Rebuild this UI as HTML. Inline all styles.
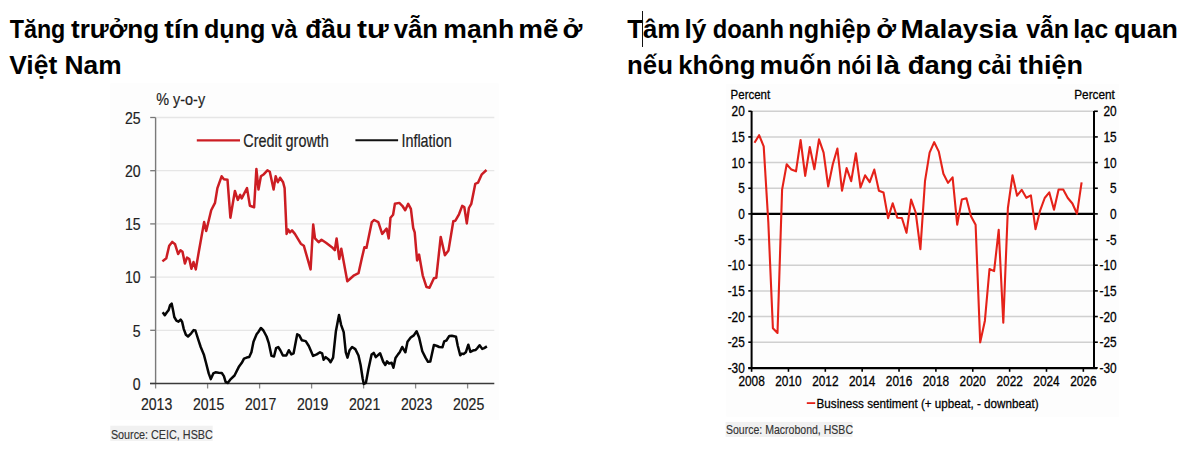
<!DOCTYPE html>
<html><head><meta charset="utf-8"><style>
html,body{margin:0;padding:0;background:#fff;width:1200px;height:474px;overflow:hidden}
svg{display:block}
text{font-family:"Liberation Sans",sans-serif}
</style></head><body>
<svg width="1200" height="474" viewBox="0 0 1200 474">
<text x="9.72" y="37.9" font-size="25" font-weight="bold" fill="#000" textLength="55.63" lengthAdjust="spacingAndGlyphs">Tăng</text>
<text x="70.94" y="37.9" font-size="25" font-weight="bold" fill="#000" textLength="88.31" lengthAdjust="spacingAndGlyphs">trưởng</text>
<text x="164.16" y="37.9" font-size="25" font-weight="bold" fill="#000" textLength="35.12" lengthAdjust="spacingAndGlyphs">tín</text>
<text x="203.99" y="37.9" font-size="25" font-weight="bold" fill="#000" textLength="61.45" lengthAdjust="spacingAndGlyphs">dụng</text>
<text x="271.16" y="37.9" font-size="25" font-weight="bold" fill="#000" textLength="26.26" lengthAdjust="spacingAndGlyphs">và</text>
<text x="305.2" y="37.9" font-size="25" font-weight="bold" fill="#000" textLength="46.52" lengthAdjust="spacingAndGlyphs">đầu</text>
<text x="357.14" y="37.9" font-size="25" font-weight="bold" fill="#000" textLength="31.64" lengthAdjust="spacingAndGlyphs">tư</text>
<text x="393.65" y="37.9" font-size="25" font-weight="bold" fill="#000" textLength="44.22" lengthAdjust="spacingAndGlyphs">vẫn</text>
<text x="443.3" y="37.9" font-size="25" font-weight="bold" fill="#000" textLength="70.87" lengthAdjust="spacingAndGlyphs">mạnh</text>
<text x="518.22" y="37.9" font-size="25" font-weight="bold" fill="#000" textLength="40.21" lengthAdjust="spacingAndGlyphs">mẽ</text>
<text x="562.63" y="37.9" font-size="25" font-weight="bold" fill="#000" textLength="19.84" lengthAdjust="spacingAndGlyphs">ở</text>
<text x="9.19" y="73.8" font-size="25" font-weight="bold" fill="#000" textLength="48.03" lengthAdjust="spacingAndGlyphs">Việt</text>
<text x="64.46" y="73.8" font-size="25" font-weight="bold" fill="#000" textLength="57.11" lengthAdjust="spacingAndGlyphs">Nam</text>
<text x="627.19" y="37.9" font-size="25" font-weight="bold" fill="#000" textLength="53.11" lengthAdjust="spacingAndGlyphs">Tâm</text>
<text x="684.46" y="37.9" font-size="25" font-weight="bold" fill="#000" textLength="21.95" lengthAdjust="spacingAndGlyphs">lý</text>
<text x="712.8" y="37.9" font-size="25" font-weight="bold" fill="#000" textLength="71.2" lengthAdjust="spacingAndGlyphs">doanh</text>
<text x="788.39" y="37.9" font-size="25" font-weight="bold" fill="#000" textLength="82.55" lengthAdjust="spacingAndGlyphs">nghiệp</text>
<text x="876.38" y="37.9" font-size="25" font-weight="bold" fill="#000" textLength="19.84" lengthAdjust="spacingAndGlyphs">ở</text>
<text x="900.6" y="37.9" font-size="25" font-weight="bold" fill="#000" textLength="116.71" lengthAdjust="spacingAndGlyphs">Malaysia</text>
<text x="1026.15" y="37.9" font-size="25" font-weight="bold" fill="#000" textLength="42.92" lengthAdjust="spacingAndGlyphs">vẫn</text>
<text x="1073.29" y="37.9" font-size="25" font-weight="bold" fill="#000" textLength="34.97" lengthAdjust="spacingAndGlyphs">lạc</text>
<text x="1113.93" y="37.9" font-size="25" font-weight="bold" fill="#000" textLength="64.05" lengthAdjust="spacingAndGlyphs">quan</text>
<text x="627.1" y="74.0" font-size="25" font-weight="bold" fill="#000" textLength="45.85" lengthAdjust="spacingAndGlyphs">nếu</text>
<text x="678.25" y="74.0" font-size="25" font-weight="bold" fill="#000" textLength="77.24" lengthAdjust="spacingAndGlyphs">không</text>
<text x="759.56" y="74.0" font-size="25" font-weight="bold" fill="#000" textLength="72.08" lengthAdjust="spacingAndGlyphs">muốn</text>
<text x="837.28" y="74.0" font-size="25" font-weight="bold" fill="#000" textLength="34.35" lengthAdjust="spacingAndGlyphs">nói</text>
<text x="875.51" y="74.0" font-size="25" font-weight="bold" fill="#000" textLength="24.43" lengthAdjust="spacingAndGlyphs">là</text>
<text x="907.65" y="74.0" font-size="25" font-weight="bold" fill="#000" textLength="65.48" lengthAdjust="spacingAndGlyphs">đang</text>
<text x="977.77" y="74.0" font-size="25" font-weight="bold" fill="#000" textLength="33.94" lengthAdjust="spacingAndGlyphs">cải</text>
<text x="1018.43" y="74.0" font-size="25" font-weight="bold" fill="#000" textLength="64.57" lengthAdjust="spacingAndGlyphs">thiện</text>
<rect x="642" y="11" width="1" height="36" fill="#111"/>
<rect x="110.3" y="83.2" width="388.5" height="337.1" fill="#fdfdfd"/>
<rect x="110.3" y="425.7" width="102.4" height="15.2" fill="#f1f1f1"/>
<line x1="156.3" y1="330.30" x2="494.3" y2="330.30" stroke="#e6e6e6" stroke-width="1.3"/>
<line x1="156.3" y1="277.10" x2="494.3" y2="277.10" stroke="#e6e6e6" stroke-width="1.3"/>
<line x1="156.3" y1="223.90" x2="494.3" y2="223.90" stroke="#e6e6e6" stroke-width="1.3"/>
<line x1="156.3" y1="170.70" x2="494.3" y2="170.70" stroke="#e6e6e6" stroke-width="1.3"/>
<line x1="156.3" y1="117.50" x2="494.3" y2="117.50" stroke="#e6e6e6" stroke-width="1.3"/>
<line x1="150.2" y1="383.50" x2="155.6" y2="383.50" stroke="#777" stroke-width="1.3"/>
<g transform="translate(140.6,389.7) scale(0.81,1)"><text x="0" y="0" font-size="17.4" text-anchor="end" fill="#222" font-weight="normal" stroke="#222" stroke-width="0.2" >0</text></g>
<line x1="150.2" y1="330.30" x2="155.6" y2="330.30" stroke="#777" stroke-width="1.3"/>
<g transform="translate(140.6,336.5) scale(0.81,1)"><text x="0" y="0" font-size="17.4" text-anchor="end" fill="#222" font-weight="normal" stroke="#222" stroke-width="0.2" >5</text></g>
<line x1="150.2" y1="277.10" x2="155.6" y2="277.10" stroke="#777" stroke-width="1.3"/>
<g transform="translate(140.6,283.3) scale(0.81,1)"><text x="0" y="0" font-size="17.4" text-anchor="end" fill="#222" font-weight="normal" stroke="#222" stroke-width="0.2" >10</text></g>
<line x1="150.2" y1="223.90" x2="155.6" y2="223.90" stroke="#777" stroke-width="1.3"/>
<g transform="translate(140.6,230.09999999999997) scale(0.81,1)"><text x="0" y="0" font-size="17.4" text-anchor="end" fill="#222" font-weight="normal" stroke="#222" stroke-width="0.2" >15</text></g>
<line x1="150.2" y1="170.70" x2="155.6" y2="170.70" stroke="#777" stroke-width="1.3"/>
<g transform="translate(140.6,176.89999999999998) scale(0.81,1)"><text x="0" y="0" font-size="17.4" text-anchor="end" fill="#222" font-weight="normal" stroke="#222" stroke-width="0.2" >20</text></g>
<line x1="150.2" y1="117.50" x2="155.6" y2="117.50" stroke="#777" stroke-width="1.3"/>
<g transform="translate(140.6,123.7) scale(0.81,1)"><text x="0" y="0" font-size="17.4" text-anchor="end" fill="#222" font-weight="normal" stroke="#222" stroke-width="0.2" >25</text></g>
<line x1="155.6" y1="117.4" x2="155.6" y2="383.5" stroke="#7a7a7a" stroke-width="1.4"/>
<line x1="155.60" y1="383.5" x2="155.60" y2="388.5" stroke="#888" stroke-width="1.3"/>
<g transform="translate(156.6,410.1) scale(0.81,1)"><text x="0" y="0" font-size="17.4" text-anchor="middle" fill="#222" font-weight="normal" stroke="#222" stroke-width="0.2" >2013</text></g>
<line x1="207.60" y1="383.5" x2="207.60" y2="388.5" stroke="#888" stroke-width="1.3"/>
<g transform="translate(208.6,410.1) scale(0.81,1)"><text x="0" y="0" font-size="17.4" text-anchor="middle" fill="#222" font-weight="normal" stroke="#222" stroke-width="0.2" >2015</text></g>
<line x1="259.60" y1="383.5" x2="259.60" y2="388.5" stroke="#888" stroke-width="1.3"/>
<g transform="translate(260.6,410.1) scale(0.81,1)"><text x="0" y="0" font-size="17.4" text-anchor="middle" fill="#222" font-weight="normal" stroke="#222" stroke-width="0.2" >2017</text></g>
<line x1="311.60" y1="383.5" x2="311.60" y2="388.5" stroke="#888" stroke-width="1.3"/>
<g transform="translate(312.6,410.1) scale(0.81,1)"><text x="0" y="0" font-size="17.4" text-anchor="middle" fill="#222" font-weight="normal" stroke="#222" stroke-width="0.2" >2019</text></g>
<line x1="363.60" y1="383.5" x2="363.60" y2="388.5" stroke="#888" stroke-width="1.3"/>
<g transform="translate(364.6,410.1) scale(0.81,1)"><text x="0" y="0" font-size="17.4" text-anchor="middle" fill="#222" font-weight="normal" stroke="#222" stroke-width="0.2" >2021</text></g>
<line x1="415.60" y1="383.5" x2="415.60" y2="388.5" stroke="#888" stroke-width="1.3"/>
<g transform="translate(416.6,410.1) scale(0.81,1)"><text x="0" y="0" font-size="17.4" text-anchor="middle" fill="#222" font-weight="normal" stroke="#222" stroke-width="0.2" >2023</text></g>
<line x1="467.60" y1="383.5" x2="467.60" y2="388.5" stroke="#888" stroke-width="1.3"/>
<g transform="translate(468.6,410.1) scale(0.81,1)"><text x="0" y="0" font-size="17.4" text-anchor="middle" fill="#222" font-weight="normal" stroke="#222" stroke-width="0.2" >2025</text></g>
<line x1="150" y1="383.5" x2="494.3" y2="383.5" stroke="#3a3a3a" stroke-width="1.5"/>
<g transform="translate(156.2,104.5) scale(0.84,1)"><text x="0" y="0" font-size="17.2" text-anchor="start" fill="#222" font-weight="normal" stroke="#222" stroke-width="0.2" >% y-o-y</text></g>
<line x1="196.8" y1="140.3" x2="240" y2="140.3" stroke="#cc1d23" stroke-width="2.2"/>
<g transform="translate(243.3,146.9) scale(0.79,1)"><text x="0" y="0" font-size="18.2" text-anchor="start" fill="#222" font-weight="normal" stroke="#222" stroke-width="0.2" >Credit growth</text></g>
<line x1="355.4" y1="140.3" x2="398.1" y2="140.3" stroke="#111" stroke-width="2"/>
<g transform="translate(401.4,146.9) scale(0.79,1)"><text x="0" y="0" font-size="18.2" text-anchor="start" fill="#222" font-weight="normal" stroke="#222" stroke-width="0.2" >Inflation</text></g>
<polyline points="162.4,261.4 166.3,258.2 169.2,245.7 172.2,241.9 175.1,244.3 178.1,254 180.5,250.2 182.5,251.7 184.9,263.5 187,257.6 189.3,259 191.4,268.8 193.5,262 195.8,269.4 198.8,251.7 204.1,222.1 206.2,231 211.2,210.3 215,202.9 217.4,188.1 221.6,176.3 223.9,179.2 227.5,179.8 230.4,217.7 234.9,191 237.8,199.9 240.2,194.9 241.7,198.4 247,188.1 249.9,205.8 254.1,207.3 256.4,168.9 258.5,189.6 260.9,176.3 263.9,174.2 267.4,170.3 269.8,171.8 273.6,189.6 275.7,176.3 277.8,182.2 280.1,177.7 283.1,182.2 284.6,188.1 286.6,233.9 288.1,229.5 289.9,232.4 292,230.4 294.9,233.9 300.8,243.7 303.8,245.7 310.6,269.4 313.2,224.5 315,238.4 318.6,242.2 321.5,239.8 326,242.8 331.9,247.2 334.8,250.2 336.6,238.4 339.3,259.1 341.3,248.7 347.3,281.2 349.6,279.2 354.1,275.3 358.5,273.2 362,257.6 364.4,247.2 366.5,247.8 371.8,222.1 374.2,220 378.3,222.1 382.2,233.9 386.6,228.6 388.7,238.4 390.5,217.7 393.1,214.7 394.9,203.8 399.3,202.9 402.3,205.8 405.2,210.3 408.2,203.8 410.9,208.8 413.2,228 414.7,232.4 417.1,260.5 419.1,254.6 422.7,275.3 426.5,287.1 429.5,287.7 433.9,278.3 436.3,277.7 440.7,236.9 444.9,255.2 448.5,250.4 453.3,221.3 455.4,220.7 459,214.3 462.2,205.9 464.3,207 466.8,223.4 468.9,208 471.3,203.8 475.3,183.8 478,182.7 481.8,174.3 486.5,170" fill="none" stroke="#cc1d23" stroke-width="2.5" stroke-linejoin="round"/>
<polyline points="162.7,312.2 164.8,315.3 166.9,312.2 168.6,310.1 170.1,305.2 171.7,303.7 173.2,311.1 174.3,317 176.4,320.6 178.5,321.7 180.6,319.6 182.1,321.7 183.8,329.1 185.9,334.8 188,336.5 191.2,333.3 193.7,330.1 195.4,330.5 198.6,340.7 200.7,347 203.8,354.4 206,362.8 208.7,373.4 210.8,379.1 213.3,373.4 215.5,372.3 218.6,372.8 221.8,373 223.9,376.1 225.6,381.8 227.7,382.9 230.2,379.7 234.5,375.5 238.7,367.1 241.8,362.8 244,358.6 246.7,357.6 249.2,357.1 251.4,352.3 253.5,341.7 256.6,334.3 258.2,332.2 260.9,328 263.4,330.5 266.6,336.5 268.7,342.8 271.5,355.9 274,356.5 276.1,348.1 278.2,347 280.3,350.2 282.9,355.5 286.3,355.5 288.8,350.2 291.3,354.4 293.6,353.3 297.2,334.3 299.3,335.4 301.9,340.3 305.7,341.1 308.8,346 313.1,355.9 316.7,354.4 320,352.3 322.1,353.3 323.6,359.7 325.7,357.1 328.9,359.7 330.6,362.2 333.1,357.6 335.9,331.2 339,314.9 341.1,324.8 343.7,332.2 345.8,352.3 347.5,357.6 349.6,350.2 352.1,347 355.3,349.1 358.5,355.5 360.6,365 362.7,378.7 363.8,384 365.9,382.9 368.4,369.2 371.6,354.4 373.7,352.9 375.8,357.1 380.1,353.3 383.2,361.8 385.3,365 387,361.4 389.1,363.5 391.7,362.8 393.4,367.7 395.5,358 398,354.4 399.7,352.3 402.2,347 405.4,352.3 407.5,341.7 410.7,337.5 413.8,335.4 416.6,331.2 419.1,337.5 422.3,351.2 425.5,357.6 428,361.8 430.3,361.4 433.9,344.9 437.1,346 439.2,347 442.5,347.2 444.2,341.3 446.4,340.5 449.3,335.9 451.8,335.8 456,336.8 457.7,345.5 460.2,355.3 461.9,353.6 463.6,354 465.8,352.3 468.3,344.7 470.4,351.9 472.9,350.6 475.4,350.1 477.4,348.1 479.6,345.2 482.2,348.9 484.2,348.1 486.9,346.4" fill="none" stroke="#050505" stroke-width="2.5" stroke-linejoin="round"/>
<g transform="translate(110.9,438.7) scale(0.844,1)"><text x="0" y="0" font-size="12.8" text-anchor="start" fill="#333" font-weight="normal" stroke="#333" stroke-width="0.15" >Source: CEIC, HSBC</text></g>
<rect x="726.2" y="84.1" width="392.8" height="332.6" fill="#fdfdfd"/>
<rect x="725.6" y="421.9" width="126.9" height="15" fill="#f1f1f1"/>
<line x1="751.6" y1="111.26" x2="1094" y2="111.26" stroke="#d0d0d0" stroke-width="1.5"/>
<line x1="748.3" y1="111.26" x2="751.6" y2="111.26" stroke="#000" stroke-width="1.6"/>
<line x1="1094" y1="111.26" x2="1097.8" y2="111.26" stroke="#000" stroke-width="1.6"/>
<g transform="translate(744.8,116.26000000000002) scale(0.86,1)"><text x="0" y="0" font-size="13.8" text-anchor="end" fill="#000" font-weight="normal" stroke="#000" stroke-width="0.28" >20</text></g>
<g transform="translate(1116.6,116.26000000000002) scale(0.86,1)"><text x="0" y="0" font-size="13.8" text-anchor="end" fill="#000" font-weight="normal" stroke="#000" stroke-width="0.28" >20</text></g>
<line x1="751.6" y1="136.92" x2="1094" y2="136.92" stroke="#d0d0d0" stroke-width="1.5"/>
<line x1="748.3" y1="136.92" x2="751.6" y2="136.92" stroke="#000" stroke-width="1.6"/>
<line x1="1094" y1="136.92" x2="1097.8" y2="136.92" stroke="#000" stroke-width="1.6"/>
<g transform="translate(744.8,141.92000000000002) scale(0.86,1)"><text x="0" y="0" font-size="13.8" text-anchor="end" fill="#000" font-weight="normal" stroke="#000" stroke-width="0.28" >15</text></g>
<g transform="translate(1116.6,141.92000000000002) scale(0.86,1)"><text x="0" y="0" font-size="13.8" text-anchor="end" fill="#000" font-weight="normal" stroke="#000" stroke-width="0.28" >15</text></g>
<line x1="751.6" y1="162.58" x2="1094" y2="162.58" stroke="#d0d0d0" stroke-width="1.5"/>
<line x1="748.3" y1="162.58" x2="751.6" y2="162.58" stroke="#000" stroke-width="1.6"/>
<line x1="1094" y1="162.58" x2="1097.8" y2="162.58" stroke="#000" stroke-width="1.6"/>
<g transform="translate(744.8,167.58) scale(0.86,1)"><text x="0" y="0" font-size="13.8" text-anchor="end" fill="#000" font-weight="normal" stroke="#000" stroke-width="0.28" >10</text></g>
<g transform="translate(1116.6,167.58) scale(0.86,1)"><text x="0" y="0" font-size="13.8" text-anchor="end" fill="#000" font-weight="normal" stroke="#000" stroke-width="0.28" >10</text></g>
<line x1="751.6" y1="188.24" x2="1094" y2="188.24" stroke="#d0d0d0" stroke-width="1.5"/>
<line x1="748.3" y1="188.24" x2="751.6" y2="188.24" stroke="#000" stroke-width="1.6"/>
<line x1="1094" y1="188.24" x2="1097.8" y2="188.24" stroke="#000" stroke-width="1.6"/>
<g transform="translate(744.8,193.24) scale(0.86,1)"><text x="0" y="0" font-size="13.8" text-anchor="end" fill="#000" font-weight="normal" stroke="#000" stroke-width="0.28" >5</text></g>
<g transform="translate(1116.6,193.24) scale(0.86,1)"><text x="0" y="0" font-size="13.8" text-anchor="end" fill="#000" font-weight="normal" stroke="#000" stroke-width="0.28" >5</text></g>
<line x1="748.3" y1="213.90" x2="751.6" y2="213.90" stroke="#000" stroke-width="1.6"/>
<line x1="1094" y1="213.90" x2="1097.8" y2="213.90" stroke="#000" stroke-width="1.6"/>
<g transform="translate(744.8,218.9) scale(0.86,1)"><text x="0" y="0" font-size="13.8" text-anchor="end" fill="#000" font-weight="normal" stroke="#000" stroke-width="0.28" >0</text></g>
<g transform="translate(1116.6,218.9) scale(0.86,1)"><text x="0" y="0" font-size="13.8" text-anchor="end" fill="#000" font-weight="normal" stroke="#000" stroke-width="0.28" >0</text></g>
<line x1="751.6" y1="239.56" x2="1094" y2="239.56" stroke="#d0d0d0" stroke-width="1.5"/>
<line x1="748.3" y1="239.56" x2="751.6" y2="239.56" stroke="#000" stroke-width="1.6"/>
<line x1="1094" y1="239.56" x2="1097.8" y2="239.56" stroke="#000" stroke-width="1.6"/>
<g transform="translate(744.8,244.56) scale(0.86,1)"><text x="0" y="0" font-size="13.8" text-anchor="end" fill="#000" font-weight="normal" stroke="#000" stroke-width="0.28" >-5</text></g>
<g transform="translate(1116.6,244.56) scale(0.86,1)"><text x="0" y="0" font-size="13.8" text-anchor="end" fill="#000" font-weight="normal" stroke="#000" stroke-width="0.28" >-5</text></g>
<line x1="751.6" y1="265.22" x2="1094" y2="265.22" stroke="#d0d0d0" stroke-width="1.5"/>
<line x1="748.3" y1="265.22" x2="751.6" y2="265.22" stroke="#000" stroke-width="1.6"/>
<line x1="1094" y1="265.22" x2="1097.8" y2="265.22" stroke="#000" stroke-width="1.6"/>
<g transform="translate(744.8,270.22) scale(0.86,1)"><text x="0" y="0" font-size="13.8" text-anchor="end" fill="#000" font-weight="normal" stroke="#000" stroke-width="0.28" >-10</text></g>
<g transform="translate(1116.6,270.22) scale(0.86,1)"><text x="0" y="0" font-size="13.8" text-anchor="end" fill="#000" font-weight="normal" stroke="#000" stroke-width="0.28" >-10</text></g>
<line x1="751.6" y1="290.88" x2="1094" y2="290.88" stroke="#d0d0d0" stroke-width="1.5"/>
<line x1="748.3" y1="290.88" x2="751.6" y2="290.88" stroke="#000" stroke-width="1.6"/>
<line x1="1094" y1="290.88" x2="1097.8" y2="290.88" stroke="#000" stroke-width="1.6"/>
<g transform="translate(744.8,295.88) scale(0.86,1)"><text x="0" y="0" font-size="13.8" text-anchor="end" fill="#000" font-weight="normal" stroke="#000" stroke-width="0.28" >-15</text></g>
<g transform="translate(1116.6,295.88) scale(0.86,1)"><text x="0" y="0" font-size="13.8" text-anchor="end" fill="#000" font-weight="normal" stroke="#000" stroke-width="0.28" >-15</text></g>
<line x1="751.6" y1="316.54" x2="1094" y2="316.54" stroke="#d0d0d0" stroke-width="1.5"/>
<line x1="748.3" y1="316.54" x2="751.6" y2="316.54" stroke="#000" stroke-width="1.6"/>
<line x1="1094" y1="316.54" x2="1097.8" y2="316.54" stroke="#000" stroke-width="1.6"/>
<g transform="translate(744.8,321.53999999999996) scale(0.86,1)"><text x="0" y="0" font-size="13.8" text-anchor="end" fill="#000" font-weight="normal" stroke="#000" stroke-width="0.28" >-20</text></g>
<g transform="translate(1116.6,321.53999999999996) scale(0.86,1)"><text x="0" y="0" font-size="13.8" text-anchor="end" fill="#000" font-weight="normal" stroke="#000" stroke-width="0.28" >-20</text></g>
<line x1="751.6" y1="342.20" x2="1094" y2="342.20" stroke="#d0d0d0" stroke-width="1.5"/>
<line x1="748.3" y1="342.20" x2="751.6" y2="342.20" stroke="#000" stroke-width="1.6"/>
<line x1="1094" y1="342.20" x2="1097.8" y2="342.20" stroke="#000" stroke-width="1.6"/>
<g transform="translate(744.8,347.2) scale(0.86,1)"><text x="0" y="0" font-size="13.8" text-anchor="end" fill="#000" font-weight="normal" stroke="#000" stroke-width="0.28" >-25</text></g>
<g transform="translate(1116.6,347.2) scale(0.86,1)"><text x="0" y="0" font-size="13.8" text-anchor="end" fill="#000" font-weight="normal" stroke="#000" stroke-width="0.28" >-25</text></g>
<line x1="748.3" y1="367.86" x2="751.6" y2="367.86" stroke="#000" stroke-width="1.6"/>
<line x1="1094" y1="367.86" x2="1097.8" y2="367.86" stroke="#000" stroke-width="1.6"/>
<g transform="translate(744.8,372.86) scale(0.86,1)"><text x="0" y="0" font-size="13.8" text-anchor="end" fill="#000" font-weight="normal" stroke="#000" stroke-width="0.28" >-30</text></g>
<g transform="translate(1116.6,372.86) scale(0.86,1)"><text x="0" y="0" font-size="13.8" text-anchor="end" fill="#000" font-weight="normal" stroke="#000" stroke-width="0.28" >-30</text></g>
<line x1="751.6" y1="213.90" x2="1094" y2="213.90" stroke="#000" stroke-width="2.2"/>
<line x1="751.60" y1="367" x2="751.60" y2="371.8" stroke="#000" stroke-width="1.6"/>
<g transform="translate(751.6,386.2) scale(0.86,1)"><text x="0" y="0" font-size="13.8" text-anchor="middle" fill="#000" font-weight="normal" stroke="#000" stroke-width="0.28" >2008</text></g>
<line x1="788.46" y1="367" x2="788.46" y2="371.8" stroke="#000" stroke-width="1.6"/>
<g transform="translate(788.46,386.2) scale(0.86,1)"><text x="0" y="0" font-size="13.8" text-anchor="middle" fill="#000" font-weight="normal" stroke="#000" stroke-width="0.28" >2010</text></g>
<line x1="825.32" y1="367" x2="825.32" y2="371.8" stroke="#000" stroke-width="1.6"/>
<g transform="translate(825.32,386.2) scale(0.86,1)"><text x="0" y="0" font-size="13.8" text-anchor="middle" fill="#000" font-weight="normal" stroke="#000" stroke-width="0.28" >2012</text></g>
<line x1="862.18" y1="367" x2="862.18" y2="371.8" stroke="#000" stroke-width="1.6"/>
<g transform="translate(862.1800000000001,386.2) scale(0.86,1)"><text x="0" y="0" font-size="13.8" text-anchor="middle" fill="#000" font-weight="normal" stroke="#000" stroke-width="0.28" >2014</text></g>
<line x1="899.04" y1="367" x2="899.04" y2="371.8" stroke="#000" stroke-width="1.6"/>
<g transform="translate(899.04,386.2) scale(0.86,1)"><text x="0" y="0" font-size="13.8" text-anchor="middle" fill="#000" font-weight="normal" stroke="#000" stroke-width="0.28" >2016</text></g>
<line x1="935.90" y1="367" x2="935.90" y2="371.8" stroke="#000" stroke-width="1.6"/>
<g transform="translate(935.9000000000001,386.2) scale(0.86,1)"><text x="0" y="0" font-size="13.8" text-anchor="middle" fill="#000" font-weight="normal" stroke="#000" stroke-width="0.28" >2018</text></g>
<line x1="972.76" y1="367" x2="972.76" y2="371.8" stroke="#000" stroke-width="1.6"/>
<g transform="translate(972.76,386.2) scale(0.86,1)"><text x="0" y="0" font-size="13.8" text-anchor="middle" fill="#000" font-weight="normal" stroke="#000" stroke-width="0.28" >2020</text></g>
<line x1="1009.62" y1="367" x2="1009.62" y2="371.8" stroke="#000" stroke-width="1.6"/>
<g transform="translate(1009.62,386.2) scale(0.86,1)"><text x="0" y="0" font-size="13.8" text-anchor="middle" fill="#000" font-weight="normal" stroke="#000" stroke-width="0.28" >2022</text></g>
<line x1="1046.48" y1="367" x2="1046.48" y2="371.8" stroke="#000" stroke-width="1.6"/>
<g transform="translate(1046.48,386.2) scale(0.86,1)"><text x="0" y="0" font-size="13.8" text-anchor="middle" fill="#000" font-weight="normal" stroke="#000" stroke-width="0.28" >2024</text></g>
<line x1="1083.34" y1="367" x2="1083.34" y2="371.8" stroke="#000" stroke-width="1.6"/>
<g transform="translate(1083.3400000000001,386.2) scale(0.86,1)"><text x="0" y="0" font-size="13.8" text-anchor="middle" fill="#000" font-weight="normal" stroke="#000" stroke-width="0.28" >2026</text></g>
<line x1="751.6" y1="111" x2="751.6" y2="369" stroke="#000" stroke-width="2"/>
<line x1="1094" y1="111" x2="1094" y2="369" stroke="#000" stroke-width="2"/>
<line x1="748.3" y1="368.1" x2="1097" y2="368.1" stroke="#000" stroke-width="2.2"/>
<g transform="translate(730.6,99.3) scale(0.87,1)"><text x="0" y="0" font-size="13.2" text-anchor="start" fill="#000" font-weight="normal" stroke="#000" stroke-width="0.28" >Percent</text></g>
<g transform="translate(1114.9,99.4) scale(0.895,1)"><text x="0" y="0" font-size="13.2" text-anchor="end" fill="#000" font-weight="normal" stroke="#000" stroke-width="0.28" >Percent</text></g>
<polyline points="754.5,142.8 759.1,135.2 763.7,146.4 768.3,222.0 772.9,328.2 777.5,332.9 782.1,189.6 786.7,164.3 791.4,169.6 796.0,171.3 800.6,140.0 805.2,175.9 809.8,147.0 814.4,169.2 819.0,139.4 823.6,152.7 828.2,186.5 832.8,164.3 837.4,148.5 842.0,190.7 846.6,168.1 851.2,181.2 855.9,153.3 860.5,187.5 865.1,175.3 869.7,182.2 874.3,169.6 878.9,190.7 883.5,192.5 888.1,218.1 892.7,203.3 897.3,217.8 901.9,218.0 906.5,232.8 911.1,199.6 915.7,212.5 920.4,249.1 925.0,181.2 929.6,152.7 934.2,142.2 938.8,151.6 943.4,173.8 948.0,182.9 952.6,177.4 957.2,224.7 961.8,199.6 966.4,198.3 971.0,216.3 975.6,224.7 980.2,342.4 984.9,320.7 989.5,269.0 994.1,271.1 998.7,229.9 1003.3,322.8 1007.9,208.0 1012.5,175.3 1017.1,195.7 1021.7,189.8 1026.3,197.8 1030.9,195.4 1035.5,229.2 1040.1,210.6 1044.7,198.0 1049.3,192.4 1054.0,209.8 1058.6,189.5 1063.2,189.5 1067.8,198.0 1072.4,203.5 1077.0,213.7 1081.6,182.3" fill="none" stroke="#e52219" stroke-width="2.1" stroke-linejoin="round"/>
<line x1="806.8" y1="403.1" x2="815.2" y2="403.1" stroke="#e52219" stroke-width="1.8"/>
<g transform="translate(816.6,407.7) scale(0.877,1)"><text x="0" y="0" font-size="13.3" text-anchor="start" fill="#000" font-weight="normal" stroke="#000" stroke-width="0.28" >Business sentiment (+ upbeat, - downbeat)</text></g>
<g transform="translate(725.9,433.8) scale(0.837,1)"><text x="0" y="0" font-size="12.6" text-anchor="start" fill="#333" font-weight="normal" stroke="#333" stroke-width="0.15" >Source: Macrobond, HSBC</text></g>
</svg>
</body></html>
